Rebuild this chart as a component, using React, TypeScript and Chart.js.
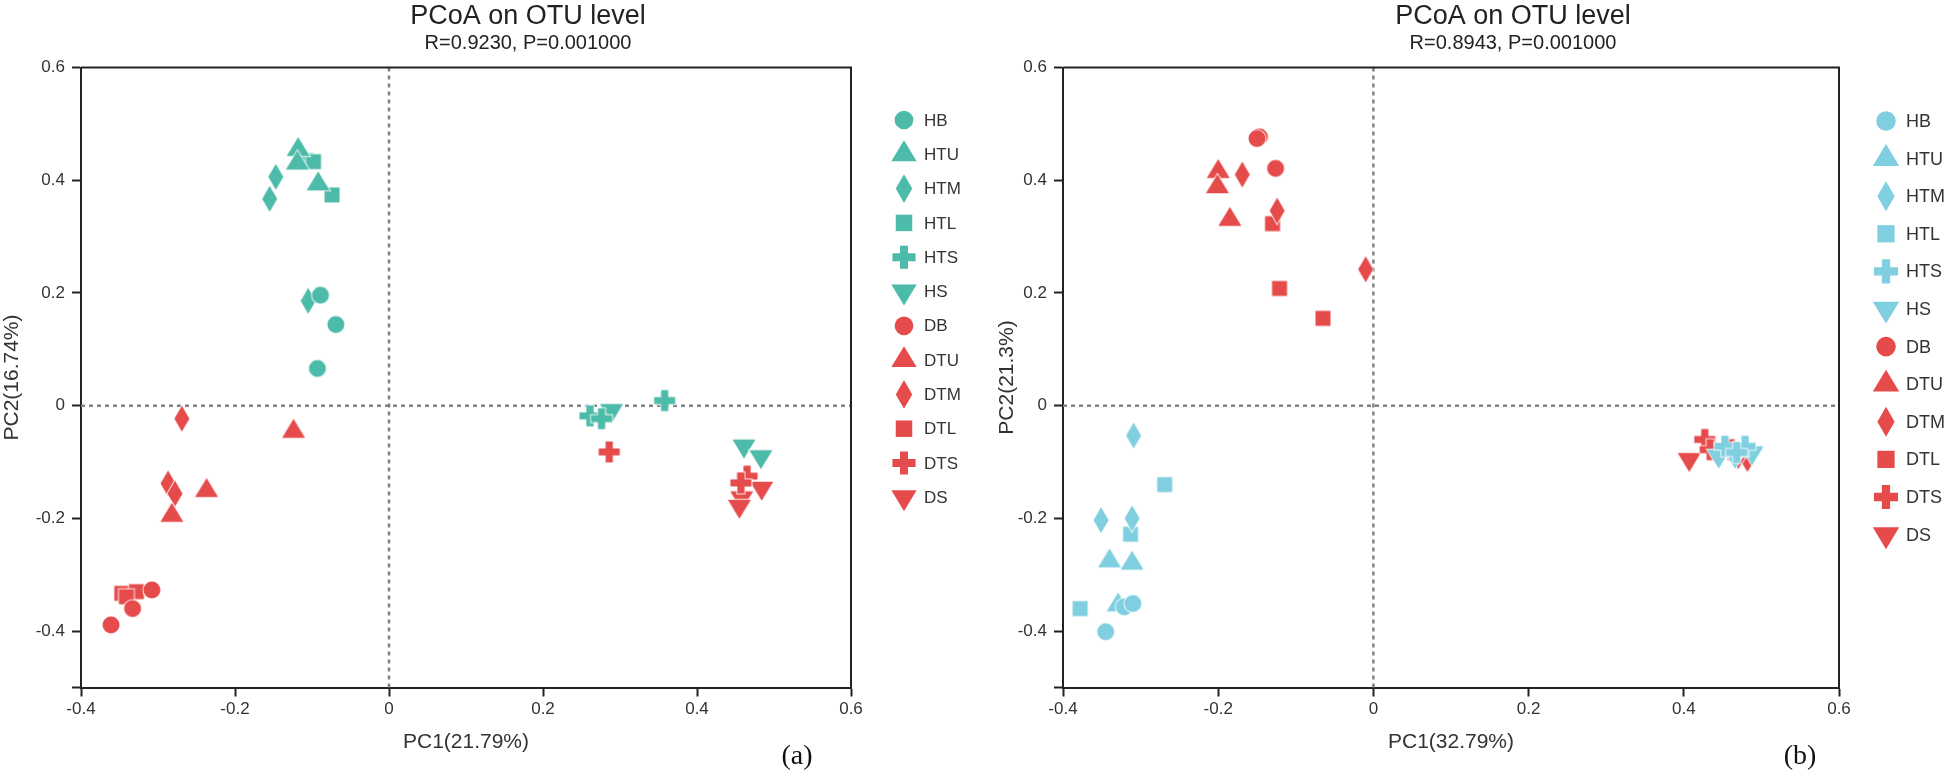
import React, { useEffect, useRef } from "react";
import { Chart, registerables } from "chart.js";

Chart.register(...registerables);
Chart.defaults.font.family = "'Liberation Sans', Arial, Helvetica, sans-serif";

// ---------- shared categories / ticks ----------
const groupNames = ["HB", "HTU", "HTM", "HTL", "HTS", "HS", "DB", "DTU", "DTM", "DTL", "DTS", "DS"];
const groupShapes = ["circle", "triangle", "diamond", "square", "cross", "down", "circle", "triangle", "diamond", "square", "cross", "down"];

const xTicks = [-0.4, -0.2, 0, 0.2, 0.4, 0.6];
const xTickLabels = ["-0.4", "-0.2", "0", "0.2", "0.4", "0.6"];
const yTicks = [-0.5, -0.4, -0.2, 0, 0.2, 0.4, 0.6];
const yTickLabels = ["", "-0.4", "-0.2", "0", "0.2", "0.4", "0.6"];

// ---------- panel (a) values [PC1, PC2] ----------
const aHB = [[-0.093, 0.066], [-0.089, 0.196], [-0.069, 0.144]];
const aHTU = [[-0.118, 0.454], [-0.119, 0.43], [-0.092, 0.393]];
const aHTM = [[-0.147, 0.406], [-0.155, 0.367], [-0.105, 0.186]];
const aHTL = [[-0.108, 0.435], [-0.098, 0.433], [-0.074, 0.374]];
const aHTS = [[0.261, -0.018], [0.276, -0.023], [0.358, 0.009]];
const aHS = [[0.289, -0.008], [0.461, -0.071], [0.483, -0.09]];
const aDB = [[-0.308, -0.327], [-0.333, -0.36], [-0.361, -0.389]];
const aDTU = [[-0.124, -0.046], [-0.237, -0.151], [-0.282, -0.195]];
const aDTM = [[-0.269, -0.023], [-0.287, -0.138], [-0.278, -0.156]];
const aDTL = [[-0.347, -0.333], [-0.328, -0.33], [-0.341, -0.339]];
const aDTS = [[0.286, -0.082], [0.465, -0.125], [0.457, -0.137]];
const aDS = [[0.484, -0.146], [0.458, -0.163], [0.455, -0.178]];

// ---------- panel (b) values [PC1, PC2] ----------
const bHB = [[-0.321, -0.357], [-0.31, -0.351], [-0.345, -0.401]];
const bHTU = [[-0.34, -0.276], [-0.311, -0.28], [-0.329, -0.354]];
const bHTM = [[-0.309, -0.053], [-0.351, -0.203], [-0.311, -0.2]];
const bHTL = [[-0.269, -0.14], [-0.313, -0.228], [-0.378, -0.36]];
const bHTS = [[0.453, -0.072], [0.479, -0.072], [0.468, -0.083]];
const bHS = [[0.445, -0.089], [0.466, -0.089], [0.488, -0.083]];
const bDB = [[-0.147, 0.477], [-0.15, 0.474], [-0.126, 0.421]];
const bDTU = [[-0.2, 0.415], [-0.201, 0.388], [-0.185, 0.33]];
const bDTM = [[-0.169, 0.41], [-0.124, 0.346], [-0.01, 0.242]];
const bDTL = [[-0.13, 0.323], [-0.121, 0.208], [-0.065, 0.155]];
const bDTS = [[0.427, -0.06], [0.434, -0.078], [0.461, -0.078]];
const bDS = [[0.407, -0.095], [0.482, -0.095], [0.47, -0.09]];

const TEAL = "#4DBBAA";
const LIGHTBLUE = "#7FCFE0";
const RED = "#E64B4B";

// ---------- layout constants ----------
const H = 772;
const AREA_TOP = 67.5;
const AREA_BOTTOM = 687.5;

type Cfg = {
  title: string;
  subtitle: string;
  xTitle: string;
  yTitle: string;
  tag: string;
  series: number[][][];
  light: string;
  canvasLeft: number;
  width: number;
  areaLeft: number;
  areaRight: number;
  titleX: number;
  yTitleX: number;
  tagX: number;
  legendX: number;
  legendTextX: number;
  legendY0: number;
  legendStep: number;
  legendFont: number;
  legendScale: number;
};

const panelA: Cfg = {
  title: "PCoA on OTU level",
  subtitle: "R=0.9230, P=0.001000",
  xTitle: "PC1(21.79%)",
  yTitle: "PC2(16.74%)",
  tag: "(a)",
  series: [aHB, aHTU, aHTM, aHTL, aHTS, aHS, aDB, aDTU, aDTM, aDTL, aDTS, aDS],
  light: TEAL,
  canvasLeft: 0,
  width: 990,
  areaLeft: 81,
  areaRight: 851,
  titleX: 528,
  yTitleX: 12,
  tagX: 797,
  legendX: 904,
  legendTextX: 924,
  legendY0: 120,
  legendStep: 34.3,
  legendFont: 17,
  legendScale: 1.1,
};

const panelB: Cfg = {
  title: "PCoA on OTU level",
  subtitle: "R=0.8943, P=0.001000",
  xTitle: "PC1(32.79%)",
  yTitle: "PC2(21.3%)",
  tag: "(b)",
  series: [bHB, bHTU, bHTM, bHTL, bHTS, bHS, bDB, bDTU, bDTM, bDTL, bDTS, bDS],
  light: LIGHTBLUE,
  canvasLeft: 954,
  width: 990,
  areaLeft: 109,
  areaRight: 885,
  titleX: 1513 - 954,
  yTitleX: 1007 - 954,
  tagX: 1800 - 954,
  legendX: 1886 - 954,
  legendTextX: 1906 - 954,
  legendY0: 121,
  legendStep: 37.6,
  legendFont: 18,
  legendScale: 1.15,
};

// ---------- marker shapes ----------
function drawShape(ctx: CanvasRenderingContext2D, shape: string, cx: number, cy: number, s: number, outline: boolean) {
  ctx.beginPath();
  if (shape === "circle") {
    ctx.arc(cx, cy, 8.5 * s, 0, Math.PI * 2);
  } else if (shape === "square") {
    ctx.rect(cx - 7.5 * s, cy - 7.5 * s, 15 * s, 15 * s);
  } else if (shape === "diamond") {
    ctx.moveTo(cx, cy - 13 * s);
    ctx.lineTo(cx + 7.5 * s, cy);
    ctx.lineTo(cx, cy + 13 * s);
    ctx.lineTo(cx - 7.5 * s, cy);
    ctx.closePath();
  } else if (shape === "triangle" || shape === "down") {
    const h = 19 * s;
    const w = 23 * s;
    const d = shape === "down" ? -1 : 1;
    ctx.moveTo(cx, cy - d * (2 * h) / 3);
    ctx.lineTo(cx + w / 2, cy + d * h / 3);
    ctx.lineTo(cx - w / 2, cy + d * h / 3);
    ctx.closePath();
  } else if (shape === "cross") {
    const a = 10.5 * s;
    const t = 3.6 * s;
    ctx.moveTo(cx - t, cy - a);
    ctx.lineTo(cx + t, cy - a);
    ctx.lineTo(cx + t, cy - t);
    ctx.lineTo(cx + a, cy - t);
    ctx.lineTo(cx + a, cy + t);
    ctx.lineTo(cx + t, cy + t);
    ctx.lineTo(cx + t, cy + a);
    ctx.lineTo(cx - t, cy + a);
    ctx.lineTo(cx - t, cy + t);
    ctx.lineTo(cx - a, cy + t);
    ctx.lineTo(cx - a, cy - t);
    ctx.lineTo(cx - t, cy - t);
    ctx.closePath();
  }
  if (outline) {
    ctx.save();
    ctx.strokeStyle = "rgba(255,255,255,0.85)";
    ctx.lineWidth = 2;
    ctx.lineJoin = "miter";
    ctx.stroke();
    ctx.restore();
  }
  ctx.fill();
}

function makeMarker(shape: string, color: string, s: number): HTMLCanvasElement {
  const size = 2 * Math.ceil(17 * s);
  const c = document.createElement("canvas");
  c.width = size;
  c.height = size;
  const ctx = c.getContext("2d")!;
  ctx.fillStyle = color;
  drawShape(ctx, shape, size / 2, size / 2, s, true);
  return c;
}

function colorFor(cfg: Cfg, i: number) {
  return i < 6 ? cfg.light : RED;
}

function decorPlugin(cfg: Cfg) {
  return {
    id: "decor",
    beforeDatasetsDraw(chart: any) {
      const { ctx, chartArea: a, scales } = chart;
      const x0 = scales.x.getPixelForValue(0);
      const y0 = scales.y.getPixelForValue(0);
      ctx.save();
      ctx.strokeStyle = "#808080";
      ctx.lineWidth = 2.5;
      ctx.setLineDash([4, 4]);
      ctx.beginPath();
      ctx.moveTo(x0, a.top);
      ctx.lineTo(x0, a.bottom);
      ctx.moveTo(a.left, y0);
      ctx.lineTo(a.right, y0);
      ctx.stroke();
      ctx.restore();
    },
    afterDraw(chart: any) {
      const { ctx, chartArea: a } = chart;
      ctx.save();
      // frame top/right
      ctx.strokeStyle = "#222";
      ctx.lineWidth = 2;
      ctx.beginPath();
      ctx.moveTo(a.left, a.top);
      ctx.lineTo(a.right, a.top);
      ctx.lineTo(a.right, a.bottom);
      ctx.stroke();

      // titles
      ctx.fillStyle = "#222";
      ctx.textAlign = "center";
      ctx.textBaseline = "alphabetic";
      ctx.font = "27px 'Liberation Sans', Arial, sans-serif";
      ctx.fillText(cfg.title, cfg.titleX, 24);
      ctx.font = "20px 'Liberation Sans', Arial, sans-serif";
      ctx.fillText(cfg.subtitle, cfg.titleX, 49);

      // axis titles
      ctx.fillStyle = "#333";
      ctx.font = "21px 'Liberation Sans', Arial, sans-serif";
      ctx.textBaseline = "middle";
      ctx.fillText(cfg.xTitle, (a.left + a.right) / 2, 742);
      ctx.save();
      ctx.translate(cfg.yTitleX, (a.top + a.bottom) / 2);
      ctx.rotate(-Math.PI / 2);
      ctx.fillText(cfg.yTitle, 0, 0);
      ctx.restore();

      // legend
      ctx.textAlign = "left";
      ctx.font = `${cfg.legendFont}px 'Liberation Sans', Arial, sans-serif`;
      groupNames.forEach((name, i) => {
        const y = cfg.legendY0 + i * cfg.legendStep;
        ctx.fillStyle = colorFor(cfg, i);
        drawShape(ctx, groupShapes[i], cfg.legendX, y, cfg.legendScale, false);
        ctx.fillStyle = "#333";
        ctx.fillText(name, cfg.legendTextX, y + 1);
      });

      // panel tag
      ctx.fillStyle = "#111";
      ctx.textAlign = "center";
      ctx.textBaseline = "alphabetic";
      ctx.font = "28px 'Liberation Serif', 'Times New Roman', serif";
      ctx.fillText(cfg.tag, cfg.tagX, 764);
      ctx.restore();
    },
  };
}

function findLabel(ticks: number[], labels: string[], v: number) {
  const i = ticks.findIndex((t) => Math.abs(t - v) < 1e-9);
  return i >= 0 ? labels[i] : "";
}

function Panel({ cfg }: { cfg: Cfg }) {
  const ref = useRef<HTMLCanvasElement>(null);
  useEffect(() => {
    const canvas = ref.current!;
    const datasets = cfg.series.map((pts, i) => ({
      label: groupNames[i],
      data: pts.map(([x, y]) => ({ x, y })),
      pointStyle: makeMarker(groupShapes[i], colorFor(cfg, i), 1),
      pointRadius: 10,
      pointHoverRadius: 10,
      backgroundColor: colorFor(cfg, i),
      borderColor: colorFor(cfg, i),
      showLine: false,
    }));
    const tickFont = { size: 17 };
    const chart = new Chart(canvas, {
      type: "scatter",
      data: { datasets } as any,
      options: {
        responsive: false,
        animation: false,
        devicePixelRatio: 1,
        events: [],
        layout: { padding: { left: 0, top: AREA_TOP, right: cfg.width - cfg.areaRight, bottom: 0 } },
        plugins: { legend: { display: false }, tooltip: { enabled: false }, title: { display: false } },
        scales: {
          x: {
            type: "linear",
            min: -0.4,
            max: 0.6,
            afterBuildTicks: (s: any) => {
              s.ticks = xTicks.map((v) => ({ value: v }));
            },
            afterFit: (s: any) => {
              s.height = H - AREA_BOTTOM;
            },
            ticks: {
              callback: (v: any) => findLabel(xTicks, xTickLabels, Number(v)),
              font: tickFont,
              color: "#333",
              padding: 3,
              maxRotation: 0,
              autoSkip: false,
            },
            grid: { drawOnChartArea: false, drawTicks: true, tickLength: 9, tickWidth: 2, tickColor: "#222" },
            border: { display: true, color: "#222", width: 2 },
          },
          y: {
            type: "linear",
            min: -0.5,
            max: 0.6,
            afterBuildTicks: (s: any) => {
              s.ticks = yTicks.map((v) => ({ value: v }));
            },
            afterFit: (s: any) => {
              s.width = cfg.areaLeft;
            },
            ticks: {
              callback: (v: any) => findLabel(yTicks, yTickLabels, Number(v)),
              font: tickFont,
              color: "#333",
              padding: 7,
              autoSkip: false,
            },
            grid: { drawOnChartArea: false, drawTicks: true, tickLength: 9, tickWidth: 2, tickColor: "#222" },
            border: { display: true, color: "#222", width: 2 },
          },
        },
      } as any,
      plugins: [decorPlugin(cfg)],
    });
    return () => chart.destroy();
  }, [cfg]);
  return (
    <canvas
      ref={ref}
      width={cfg.width}
      height={H}
      style={{ position: "absolute", left: cfg.canvasLeft, top: 0, width: cfg.width, height: H }}
    />
  );
}

export default function App() {
  return (
    <div
      style={{
        position: "fixed",
        left: 0,
        top: 0,
        width: 1944,
        height: H,
        background: "#fff",
        overflow: "hidden",
      }}
    >
      <Panel cfg={panelA} />
      <Panel cfg={panelB} />
    </div>
  );
}
